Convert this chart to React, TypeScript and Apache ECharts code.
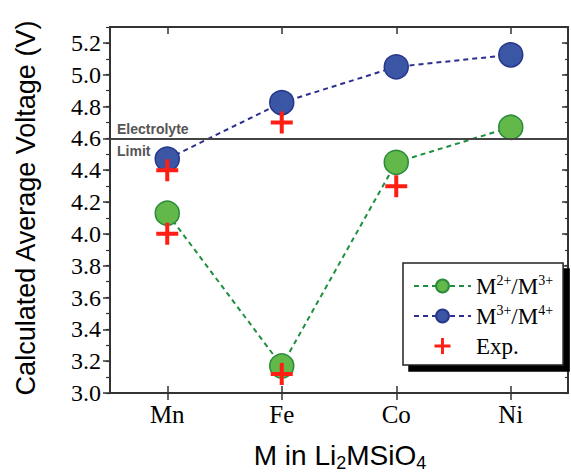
import React, { useEffect, useRef } from "react";
import * as echarts from "echarts";

const categories = ["Mn", "Fe", "Co", "Ni"];
const m23Values = [4.13, 3.17, 4.45, 4.67];
const m34Values = [4.47, 4.825, 5.05, 5.125];
const expCategories = ["Mn", "Mn", "Fe", "Fe", "Co"];
const expValues = [4.4, 4.0, 4.7, 3.12, 4.3];
const majorTicks = [3.0, 3.2, 3.4, 3.6, 3.8, 4.0, 4.2, 4.4, 4.6, 4.8, 5.0, 5.2];
const electrolyteLimit = 4.6;
const seriesNames = ["M2+/M3+", "M3+/M4+", "Exp."];
const legendRich: Record<string, string> = {
  "M2+/M3+": "{t|M}{s|2+}{t|/M}{s|3+}",
  "M3+/M4+": "{t|M}{s|3+}{t|/M}{s|4+}",
  "Exp.": "{t|Exp.}",
};

const SERIF = '"Liberation Serif", "Times New Roman", serif';
const SANS = '"Liberation Sans", Arial, sans-serif';
const AX = "#333";
const PLUS = "path://M9,0h4v9h9v4h-9v9h-4v-9h-9v-4h9z";

export default function App() {
  const ref = useRef<HTMLDivElement>(null);
  useEffect(() => {
    if (!ref.current) return;
    const chart = echarts.init(ref.current, null, { renderer: "svg" });
    const axLine = { show: true, lineStyle: { color: AX, width: 2 } };
    const yBase = { type: "value", min: 3, max: 5.3, splitLine: { show: false } };
    chart.setOption({
      animation: false,
      backgroundColor: "#fff",
      grid: { left: 110, right: 3, top: 27, bottom: 80 },
      xAxis: [
        {
          type: "category", data: categories, position: "bottom",
          axisLine: axLine,
          axisTick: { show: true, alignWithLabel: true, length: 7, lineStyle: { color: AX, width: 1.5 } },
          axisLabel: { fontFamily: SERIF, fontSize: 25, color: "#000", margin: 9 },
        },
        {
          type: "category", data: categories, position: "top",
          axisLine: axLine,
          axisTick: { show: true, inside: true, alignWithLabel: true, length: 7, lineStyle: { color: AX, width: 1.5 } },
          axisLabel: { show: false },
        },
        {
          type: "category", data: categories, position: "bottom",
          axisLine: { show: false },
          axisTick: { show: true, inside: true, alignWithLabel: true, length: 7, lineStyle: { color: AX, width: 1.5 } },
          axisLabel: { show: false },
        },
      ],
      yAxis: [
        {
          ...yBase, position: "left", axisLine: axLine,
          axisTick: { show: true, length: 7, customValues: majorTicks, lineStyle: { color: AX, width: 1.5 } },
          axisLabel: {
            customValues: majorTicks, formatter: (v: number) => v.toFixed(1),
            fontFamily: SERIF, fontSize: 24, color: "#000", margin: 9,
          },
        },
        {
          ...yBase, position: "left", interval: 0.1, axisLine: { show: false },
          axisTick: { show: true, length: 4, lineStyle: { color: AX, width: 1.2 } },
          axisLabel: { show: false },
        },
        {
          ...yBase, position: "right", axisLine: axLine,
          axisTick: { show: true, inside: true, length: 6, customValues: majorTicks, lineStyle: { color: AX, width: 1.5 } },
          axisLabel: { show: false },
        },
        {
          ...yBase, position: "right", interval: 0.1, axisLine: { show: false },
          axisTick: { show: true, inside: true, length: 3, lineStyle: { color: AX, width: 1.2 } },
          axisLabel: { show: false },
        },
      ],
      legend: {
        orient: "vertical", left: 403, top: 263,
        data: seriesNames.map((n) => (n === "Exp." ? { name: n, icon: PLUS } : { name: n })),
        itemWidth: 57, itemHeight: 16, itemGap: 4,
        padding: [10, 10, 6, 10],
        backgroundColor: "#fff", borderColor: "#222", borderWidth: 1.5,
        shadowColor: "#000", shadowBlur: 0, shadowOffsetX: 6, shadowOffsetY: 6,
        formatter: (n: string) => legendRich[n] || n,
        textStyle: {
          fontFamily: SERIF, fontSize: 23, color: "#000", lineHeight: 26,
          rich: {
            t: { fontFamily: SERIF, fontSize: 23, color: "#000", lineHeight: 26 },
            s: { fontFamily: SERIF, fontSize: 14, color: "#000", verticalAlign: "top", lineHeight: 14 },
          },
        },
      },
      series: [
        {
          name: seriesNames[0], type: "line", data: m23Values,
          symbol: "circle", symbolSize: 24, z: 3,
          itemStyle: { color: "#62b94a", borderColor: "#2a8a3a", borderWidth: 1.5 },
          lineStyle: { color: "#1f8f3f", width: 2, type: [5, 4] },
          markLine: {
            silent: true, symbol: ["none", "none"], label: { show: false },
            lineStyle: { color: "#444", width: 2, type: "solid" },
            data: [{ yAxis: electrolyteLimit }],
          },
        },
        {
          name: seriesNames[1], type: "line", data: m34Values,
          symbol: "circle", symbolSize: 24, z: 3,
          itemStyle: { color: "#3a56a5", borderColor: "#26378a", borderWidth: 1.5 },
          lineStyle: { color: "#2d2e8f", width: 2, type: [5, 4] },
        },
        {
          name: seriesNames[2], type: "scatter",
          data: expCategories.map((c, i) => [c, expValues[i]]),
          symbol: PLUS, symbolSize: 22, z: 5,
          itemStyle: { color: "#ff1e14", opacity: 1 },
        },
      ],
      graphic: [
        {
          type: "text", x: 26, y: 208, rotation: Math.PI / 2,
          style: {
            text: "Calculated Average Voltage (V)", font: `27px ${SANS}`,
            fill: "#000", align: "center", verticalAlign: "middle",
          },
        },
        {
          type: "text", x: 340, y: 455,
          style: {
            text: "{a|M in Li}{b|2}{a|MSiO}{b|4}", align: "center", verticalAlign: "middle",
            rich: {
              a: { fontFamily: SANS, fontSize: 28, lineHeight: 34, fill: "#000" },
              b: { fontFamily: SANS, fontSize: 18, lineHeight: 10, verticalAlign: "bottom", fill: "#000" },
            },
          },
        },
        {
          type: "text", x: 117, y: 129,
          style: { text: "Electrolyte", font: `bold 14px ${SANS}`, fill: "#555", verticalAlign: "middle" },
        },
        {
          type: "text", x: 117, y: 151,
          style: { text: "Limit", font: `bold 14px ${SANS}`, fill: "#555", verticalAlign: "middle" },
        },
      ],
    });
    return () => chart.dispose();
  }, []);
  return <div ref={ref} style={{ width: 571, height: 473, position: "absolute", left: 0, top: 0 }} />;
}
